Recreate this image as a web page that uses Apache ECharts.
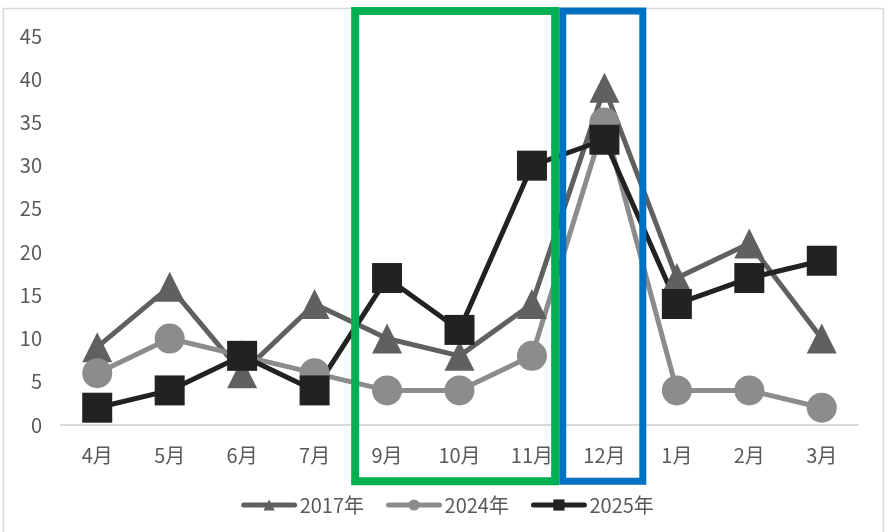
<!DOCTYPE html>
<html>
<head>
<meta charset="utf-8">
<style>
  html, body { margin: 0; padding: 0; background: #ffffff; }
  #chart { width: 895px; height: 532px; }
</style>
<script src="https://cdn.jsdelivr.net/npm/echarts@6/dist/echarts.min.js"></script>
</head>
<body>
<div id="chart"></div>
<script>
// Months shown on the category axis (no August)
const categories = ['4月', '5月', '6月', '7月', '9月', '10月', '11月', '12月', '1月', '2月', '3月'];

// Monthly counts per year
const values2017 = [9, 16, 6, 14, 10, 8, 14, 39, 17, 21, 10];
const values2024 = [6, 10, 8, 6, 4, 4, 8, 35, 4, 4, 2];
const values2025 = [2, 4, 8, 4, 17, 11, 30, 33, 14, 17, 19];

const seriesNames = ['2017年', '2024年', '2025年'];

// Value-axis ticks
const yMin = 0;
const yMax = 45;
const yStep = 5;

const FONT = '"Noto Sans CJK JP", "Noto Sans", sans-serif';
const TEXT_COLOR = '#595959';

const chart = echarts.init(document.getElementById('chart'), null, { renderer: 'canvas' });

function lineSeries(name, data, color, symbol) {
  return {
    name: name,
    type: 'line',
    data: data,
    symbol: symbol,
    symbolSize: 30,
    showAllSymbol: true,
    lineStyle: { color: color, width: 5, cap: 'round', join: 'round' },
    itemStyle: { color: color },
    emphasis: { disabled: true },
    z: 3
  };
}

chart.setOption({
  animation: false,
  backgroundColor: '#ffffff',
  textStyle: { fontFamily: FONT },
  grid: { left: 61, right: 37, top: 36, bottom: 107 },
  legend: {
    data: seriesNames,
    bottom: 12,
    left: 'center',
    itemWidth: 51,
    itemHeight: 14,
    itemGap: 22,
    lineStyle: { width: 5, cap: 'round' },
    textStyle: { color: TEXT_COLOR, fontSize: 20, fontFamily: FONT },
    selectedMode: false
  },
  xAxis: {
    type: 'category',
    data: categories,
    boundaryGap: true,
    axisLine: { show: true, lineStyle: { color: '#d9d9d9', width: 2 } },
    axisTick: { show: false },
    axisLabel: { color: TEXT_COLOR, fontSize: 20, margin: 20, fontFamily: FONT },
    splitLine: { show: false }
  },
  yAxis: {
    type: 'value',
    min: yMin,
    max: yMax,
    interval: yStep,
    axisLine: { show: false },
    axisTick: { show: false },
    splitLine: { show: false },
    axisLabel: { color: TEXT_COLOR, fontSize: 20, margin: 19, fontFamily: FONT }
  },
  series: [
    lineSeries(seriesNames[0], values2017, '#606060', 'triangle'),
    lineSeries(seriesNames[1], values2024, '#8c8c8c', 'circle'),
    lineSeries(seriesNames[2], values2025, '#222222', 'rect')
  ]
});

// Highlight frames: autumn months (green) and December (blue),
// positioned from the category axis so they follow the layout.
const c0 = chart.convertToPixel({ xAxisIndex: 0 }, categories[0]);
const c1 = chart.convertToPixel({ xAxisIndex: 0 }, categories[1]);
const step = c1 - c0;
const xAt = (u) => c0 + step * u;
const yAt = (v) => chart.convertToPixel({ yAxisIndex: 0 }, v);

const frameTop = yAt(47.9);
const frameBottom = yAt(-6.5);

function frame(uLeft, uRight, color, width) {
  const x1 = xAt(uLeft);
  const x2 = xAt(uRight);
  return {
    type: 'rect',
    shape: { x: x1, y: frameTop, width: x2 - x1, height: frameBottom - frameTop },
    style: { fill: 'none', stroke: color, lineWidth: width },
    z: 100,
    silent: true
  };
}

chart.setOption({
  graphic: [
    {
      type: 'rect',
      shape: { x: 3.5, y: 8.5, width: 880, height: 540 },
      style: { fill: 'none', stroke: '#d9d9d9', lineWidth: 1.5 },
      z: -1,
      silent: true
    },
    frame(3.56, 6.32, '#00b050', 8),
    frame(6.425, 7.53, '#0070c0', 7)
  ]
});
</script>
</body>
</html>
